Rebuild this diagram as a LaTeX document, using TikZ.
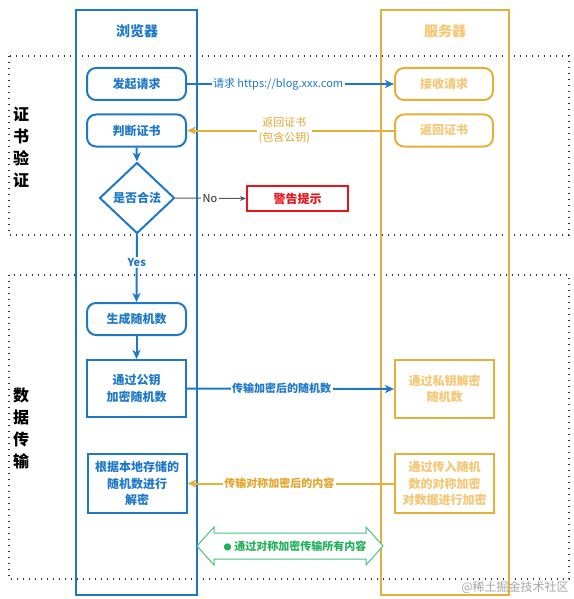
\documentclass[tikz,border=0pt]{standalone}
\usepackage{fontspec}
\setmainfont{Noto Sans CJK SC}
\usetikzlibrary{shapes.geometric,arrows.meta}
\definecolor{cblue}{HTML}{1E78C8}
\definecolor{corange}{HTML}{E5B03A}
\definecolor{cpale}{HTML}{F5C674}
\definecolor{clabel}{HTML}{E3A52C}
\definecolor{cred}{HTML}{E8141B}
\definecolor{cgreen}{HTML}{22B05A}
\definecolor{cgreenline}{HTML}{45C47F}
\begin{document}
\begin{tikzpicture}[x=1pt,y=-1pt,
  dotbox/.style={draw=black!80,line width=1.3pt,dash pattern=on 1.3pt off 4.7pt},
  lanebox/.style={line width=2pt},
  sidelabel/.style={font=\fontsize{16}{22}\selectfont\bfseries,align=center,text=black},
  bround/.style={draw=cblue,line width=2pt,rounded corners=9pt,minimum width=99pt,minimum height=32pt,text=cblue,font=\fontsize{12}{16.5}\selectfont\bfseries,align=center,inner sep=0pt},
  bsq/.style={draw=cblue,line width=2pt,minimum width=99pt,text=cblue,font=\fontsize{12}{16.5}\selectfont\bfseries,align=center,inner sep=0pt},
  sround/.style={draw=corange,line width=2pt,rounded corners=9pt,minimum width=98pt,minimum height=32pt,text=cpale,font=\fontsize{12}{16.5}\selectfont\bfseries,align=center,inner sep=0pt},
  ssq/.style={draw=corange,line width=2pt,minimum width=99pt,text=cpale,font=\fontsize{12}{16.5}\selectfont\bfseries,align=center,inner sep=0pt},
  barrow/.style={draw=cblue,line width=2pt,-{Stealth[length=9pt,width=8pt,inset=2.5pt]}},
  oarrow/.style={draw=corange,line width=2pt,-{Stealth[length=9pt,width=8pt,inset=2.5pt]}},
  lbl/.style={fill=white,inner sep=1.5pt,font=\fontsize{11}{15}\selectfont,align=center},
  title/.style={font=\fontsize{14}{16}\selectfont\bfseries}
]
\useasboundingbox (0,0) rectangle (573,599);
% dotted phase boxes
\draw[dotbox] (9,56) rectangle (569,235);
\draw[dotbox] (9,275) rectangle (569,579);
\node[sidelabel] (cert) at (21,147) {证\\书\\验\\证};
\node[sidelabel] (data) at (21,428) {数\\据\\传\\输};
% lanes
\draw[lanebox,draw=cblue] (76,10) rectangle (197,595);
\draw[lanebox,draw=corange] (381,10) rectangle (509,595);
\node[title,text=cblue] (tb) at (137,31) {浏览器};
\node[title,text=cpale] (ts) at (445,31) {服务器};
% browser nodes
\node[bround] (req) at (136.5,84) {发起请求};
\node[bround] (judge) at (136.5,130.5) {判断证书};
\node[diamond,draw=cblue,line width=2pt,minimum width=75pt,minimum height=71pt,inner sep=0pt,text=cblue,font=\fontsize{12}{16}\selectfont\bfseries] (legal) at (137,198) {是否合法};
\node[draw=cred,line width=2pt,minimum width=101pt,minimum height=25pt,inner sep=0pt,text=cred,font=\fontsize{12}{16}\selectfont\bfseries] (warn) at (297.5,198.5) {警告提示};
\node[bround] (gen) at (136.5,319) {生成随机数};
\node[bsq,minimum height=57pt] (enc) at (136.5,388.5) {通过公钥\\加密随机数};
\node[bsq,minimum height=59pt] (dec) at (137,483.5) {根据本地存储的\\随机数进行\\解密};
% server nodes
\node[sround] (recv) at (444,84) {接收请求};
\node[sround] (ret) at (444,130.5) {返回证书};
\node[ssq,minimum height=58pt] (sdec) at (444.5,389) {通过私钥解密\\随机数};
\node[ssq,minimum height=59pt] (senc) at (444.5,483.5) {通过传入随机\\数的对称加密\\对数据进行加密};
% connectors
\draw[barrow] (req.east) -- node[lbl,text=cblue,pos=0.44] {请求 https://blog.xxx.com} (recv.west);
\draw[oarrow] (ret.west) -- node[lbl,text=clabel,pos=0.53] {返回证书\\(包含公钥)} (judge.east);
\draw[barrow] (judge.south) -- (legal.north);
\draw[draw=black!65,line width=1pt,-{Stealth[length=6pt,width=5pt]}] (legal.east) -- node[lbl,text=black!85,pos=0.49] {No} (warn.west);
\draw[barrow] (legal.south) -- node[lbl,text=cblue,pos=0.41,font=\fontsize{11}{15}\selectfont\bfseries] {Yes} (gen.north);
\draw[barrow] (gen.south) -- (enc.north);
\draw[barrow] (enc.east) -- node[lbl,text=cblue,pos=0.457,font=\fontsize{11}{15}\selectfont\bfseries] {传输加密后的随机数} (sdec.west);
\draw[oarrow] (senc.west) -- node[lbl,text=clabel,pos=0.555,font=\fontsize{11}{15}\selectfont\bfseries] {传输对称加密后的内容} (dec.east);
% double arrow
\draw[draw=cgreenline,line width=1pt,fill=white]
  (197,546) -- (214,527) -- (214,533) -- (366,533) -- (366,527) -- (383,546)
  -- (366,565) -- (366,559) -- (214,559) -- (214,565) -- cycle;
\node[text=cgreen,font=\fontsize{11}{15}\selectfont\bfseries,inner sep=0pt] (all) at (295,546) {{\fontsize{8}{10}\selectfont ●}\ 通过对称加密传输所有内容};
% watermark
\node[text=black!35,font=\fontsize{12}{14}\selectfont,inner sep=0pt] (wm) at (515,587) {@稀土掘金技术社区};
\end{tikzpicture}
\end{document}
